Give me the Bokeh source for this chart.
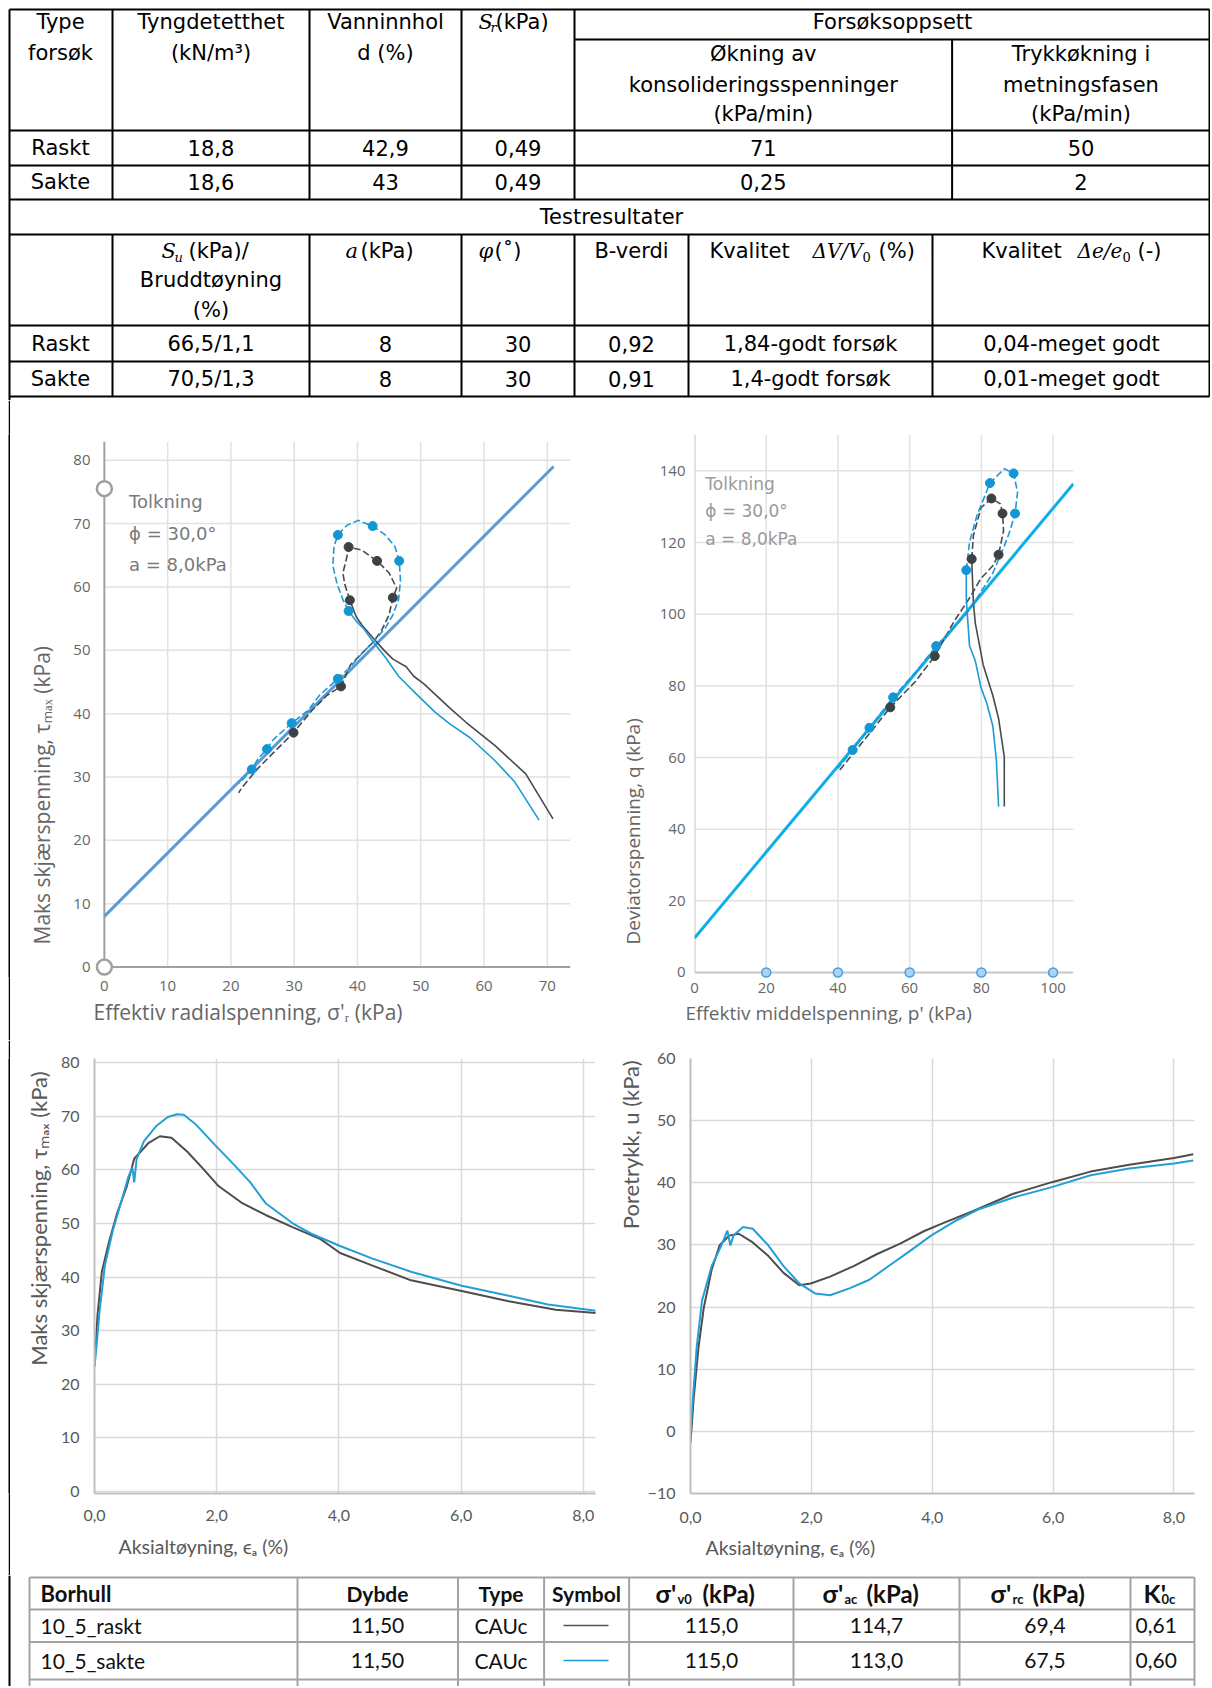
from bokeh.plotting import figure
from bokeh.layouts import column, row
from bokeh.models import Range1d, FixedTicker, CustomJSTickFormatter, Title, Spacer
from bokeh.core.properties import value
from bokeh.embed import file_html
from bokeh.resources import INLINE

# ===================== DATA =====================
# --- top tables ---
row_labels = ["Raskt", "Sakte"]
tyngde = ["18,8", "18,6"]
vanninnhold = ["42,9", "43"]
sr_kpa = ["0,49", "0,49"]
okning_kons = ["71", "0,25"]
trykkokning = ["50", "2"]
su_brudd = ["66,5/1,1", "70,5/1,3"]
a_kpa = ["8", "8"]
phi_deg = ["30", "30"]
b_verdi = ["0,92", "0,91"]
kval_dv = ["1,84-godt forsøk", "1,4-godt forsøk"]
kval_de = ["0,04-meget godt", "0,01-meget godt"]

# --- bottom table ---
borhull = ["10_5_raskt", "10_5_sakte"]
dybde = ["11,50", "11,50"]
forsokstype = ["CAUc", "CAUc"]
sig_v0 = ["115,0", "115,0"]
sig_ac = ["114,7", "113,0"]
sig_rc = ["69,4", "67,5"]
k0c = ["0,61", "0,60"]

tolkning = ["Tolkning", "ϕ = 30,0°", "a = 8,0kPa"]

# --- chart 1: effective radial stress vs max shear stress ---
c1_raskt_init_x = [70.9, 66.6, 61.7, 57.2, 54.7, 50.5, 48.9, 47.7, 45.6, 44.1, 42.5, 40.7, 39.8, 38.8]
c1_raskt_init_y = [23.4, 30.5, 35.0, 38.6, 40.8, 44.7, 45.9, 47.4, 48.6, 50.1, 51.9, 54.0, 55.3, 57.9]
c1_raskt_post_x = [38.8, 38.0, 37.7, 38.3, 38.6, 40.7, 43.1, 45.0, 46.2, 45.6, 45.0, 43.8, 42.5, 40.7,
                   38.9, 37.4, 35.2, 32.8, 29.9, 26.7, 24.3, 21.8, 21.2]
c1_raskt_post_y = [57.9, 60.4, 62.2, 64.6, 66.3, 65.8, 64.1, 62.2, 59.8, 58.3, 55.6, 53.1, 51.3, 49.5,
                   47.7, 44.3, 42.9, 40.5, 37.0, 33.8, 31.4, 28.4, 27.5]
c1_sakte_init_x = [68.7, 64.8, 61.7, 57.8, 54.7, 52.3, 49.2, 46.5, 44.4, 42.5, 41.0, 39.8, 38.6]
c1_sakte_init_y = [23.2, 29.3, 32.6, 36.2, 38.3, 40.2, 43.2, 45.9, 48.9, 51.3, 53.4, 54.6, 56.2]
c1_sakte_post_x = [38.6, 37.7, 36.8, 36.1, 36.3, 36.9, 38.3, 40.1, 42.4, 44.4, 45.9, 46.6, 46.8, 46.5,
                   45.6, 44.4, 42.5, 40.7, 38.9, 36.9, 34.0, 32.2, 29.6, 26.7, 25.7, 24.3, 23.3, 22.1, 21.3]
c1_sakte_post_y = [56.2, 58.0, 60.4, 63.4, 66.4, 68.2, 69.7, 70.5, 69.6, 68.2, 66.4, 64.1, 61.0, 58.0,
                   55.6, 53.5, 51.3, 49.5, 47.4, 45.5, 42.9, 40.5, 38.5, 35.9, 34.4, 32.9, 31.2, 29.9, 29.0]
c1_raskt_mark_x = [29.9, 37.4, 45.6, 43.1, 38.6, 38.8]
c1_raskt_mark_y = [37.0, 44.3, 58.3, 64.1, 66.3, 57.9]
c1_sakte_mark_x = [23.3, 25.7, 29.6, 36.9, 38.6, 36.9, 42.4, 46.6]
c1_sakte_mark_y = [31.2, 34.4, 38.5, 45.5, 56.2, 68.2, 69.6, 64.1]
c1_fit_x = [0, 71]
c1_fit_y = [8.0, 79.0]
c1_handle_x = [0, 0]
c1_handle_y = [75.5, 0]

# --- chart 2: mean effective stress vs deviator stress ---
c2_raskt_init_x = [86.4, 86.4, 84.8, 83.2, 80.5, 78.3, 77.8, 77.3]
c2_raskt_init_y = [46.3, 60.2, 70.9, 77.3, 85.9, 97.6, 103.0, 115.4]
c2_raskt_post_x = [77.3, 77.8, 79.9, 82.8, 85.3, 85.9, 86.2, 84.8, 83.2, 79.9, 76.7, 72.4, 67.0, 61.6,
                   54.6, 49.7, 44.3, 40.0]
c2_raskt_post_y = [115.4, 122.0, 129.7, 132.3, 130.8, 128.1, 123.3, 116.6, 113.5, 110.0, 104.5, 98.0,
                   88.3, 81.2, 74.0, 67.8, 61.2, 55.9]
c2_sakte_init_x = [84.8, 84.2, 83.2, 81.5, 79.9, 78.3, 76.7, 75.8, 75.8]
c2_sakte_init_y = [46.3, 59.1, 68.8, 75.2, 79.5, 87.0, 91.2, 104.1, 112.3]
c2_sakte_post_x = [75.8, 76.7, 78.8, 82.4, 86.4, 89.0, 90.1, 89.4, 88.0, 86.4, 83.2, 79.9, 75.6, 67.4,
                   61.6, 55.4, 48.8, 44.1, 40.0]
c2_sakte_post_y = [112.3, 120.1, 127.6, 136.6, 140.6, 139.3, 134.0, 128.1, 123.3, 119.0, 111.5, 106.2,
                   99.8, 91.1, 83.7, 76.8, 68.3, 62.1, 57.0]
c2_raskt_mark_x = [54.6, 67.0, 77.3, 82.8, 85.9, 84.8]
c2_raskt_mark_y = [74.0, 88.3, 115.4, 132.3, 128.1, 116.6]
c2_sakte_mark_x = [44.1, 48.8, 55.4, 67.4, 75.8, 82.4, 89.0, 89.4]
c2_sakte_mark_y = [62.1, 68.3, 76.8, 91.1, 112.3, 136.6, 139.3, 128.1]
c2_fit_x = [0, 105.7]
c2_fit_y = [9.6, 136.4]
c2_handle_x = [20, 40, 60, 80, 100]
c2_handle_y = [0, 0, 0, 0, 0]

# --- chart 3: axial strain vs max shear stress ---
c3_raskt_x = [0.0, 0.05, 0.12, 0.24, 0.37, 0.53, 0.65, 0.88, 1.07, 1.26, 1.52, 1.78, 2.03, 2.42, 2.8,
              3.25, 3.7, 4.02, 4.54, 5.18, 6.01, 6.78, 7.55, 8.3]
c3_raskt_y = [23.3, 33.0, 41.0, 46.7, 51.9, 57.0, 62.1, 65.0, 66.3, 66.0, 63.4, 60.2, 57.0, 53.8, 51.6,
              49.3, 47.1, 44.5, 42.2, 39.4, 37.4, 35.5, 33.9, 33.2]
c3_sakte_x = [0.0, 0.04, 0.08, 0.17, 0.30, 0.43, 0.56, 0.62, 0.65, 0.69, 0.81, 1.01, 1.2, 1.35, 1.46,
              1.65, 1.97, 2.29, 2.55, 2.8, 3.25, 3.57, 4.02, 4.54, 5.18, 6.01, 6.78, 7.42, 8.3]
c3_sakte_y = [23.3, 28.0, 33.3, 42.2, 48.7, 53.8, 58.9, 60.5, 57.7, 62.1, 65.4, 68.2, 69.9, 70.4, 70.3,
              68.6, 64.7, 60.9, 57.7, 53.8, 50.0, 48.0, 45.8, 43.5, 41.0, 38.4, 36.5, 34.9, 33.6]

# --- chart 4: axial strain vs pore pressure ---
c4_raskt_x = [0.0, 0.05, 0.13, 0.22, 0.35, 0.48, 0.64, 0.8, 1.03, 1.29, 1.54, 1.8, 1.99, 2.31, 2.7,
              3.08, 3.47, 3.86, 4.18, 4.69, 5.33, 5.98, 6.62, 7.26, 8.0, 8.32]
c4_raskt_y = [-1.9, 5.0, 13.3, 19.9, 26.0, 29.9, 31.5, 31.8, 30.4, 28.2, 25.5, 23.5, 23.8, 24.9, 26.6,
              28.5, 30.2, 32.2, 33.5, 35.5, 38.2, 40.1, 41.8, 42.9, 44.0, 44.6]
c4_sakte_x = [0.0, 0.1, 0.19, 0.35, 0.51, 0.61, 0.66, 0.71, 0.87, 1.03, 1.29, 1.54, 1.8, 2.06, 2.31,
              2.63, 2.96, 3.28, 3.6, 3.98, 4.37, 4.76, 5.33, 5.98, 6.62, 7.26, 8.0, 8.32]
c4_sakte_y = [0.0, 13.3, 21.0, 26.6, 29.9, 32.3, 29.9, 31.5, 32.9, 32.6, 29.9, 26.6, 23.8, 22.2, 21.9,
              23.0, 24.4, 26.6, 28.8, 31.5, 33.8, 35.7, 37.6, 39.3, 41.2, 42.3, 43.1, 43.6]

# ===================== STYLE =====================
TBL_FONT = "DejaVu Sans"
MATH_FONT = "DejaVu Serif"
CH_FONT = "Open Sans"
BT_FONT = "Lato"
GRAY = "#464b50"
BLUE = "#1b9ad6"
GRAY_M = "#3c4145"
BLUE_M = "#1496d4"
PAGE_W = 1210


def canvas(w, h, xr, yr):
    p = figure(width=w, height=h, x_range=Range1d(*xr), y_range=Range1d(*yr),
               output_backend="svg", toolbar_location=None, min_border=0,
               x_axis_location=None, y_axis_location=None)
    p.xgrid.visible = False
    p.ygrid.visible = False
    p.outline_line_color = None
    return p


def seg(p, x0, y0, x1, y1, color="black", w=2):
    p.segment(x0=x0, y0=y0, x1=x1, y1=y1, line_color=color, line_width=w)


def txt(p, xs, ys, texts, align="center", size="21px", font=TBL_FONT, style="normal", color="#000000"):
    p.text(x=xs, y=ys, text=texts, text_align=align, text_baseline="middle",
           text_font=value(font), text_font_size=size, text_font_style=style, text_color=color)


# ===================== TOP TABLES =====================
T = canvas(PAGE_W, 400, (0, PAGE_W), (400, 0))
L, R = 9, 1209
hy = [9, 130, 165, 199, 234, 325, 361, 396]
seg(T, [L] * len(hy), hy, [R] * len(hy), hy)
seg(T, [574], [39], [R], [39])
seg(T, [L, R], [9, 9], [L, R], [400, 396])
v1 = [112, 309, 461, 574]
seg(T, v1, [9] * 4, v1, [199] * 4)
seg(T, [951.6], [39], [951.6], [199])
v2 = [112, 309, 461, 574, 688, 932]
seg(T, v2, [234] * 6, v2, [396] * 6)

cc1 = [60, 210.5, 385, 517.5, 762.8, 1080.5]
txt(T, [60, 210.5, 385], [21.5] * 3, ["Type", "Tyngdetetthet", "Vanninnhol"])
txt(T, [60, 210.5, 385], [52.7] * 3, ["forsøk", "(kN/m³)", "d (%)"])
txt(T, [478], [21.5], ["S"], align="left", font=MATH_FONT, style="italic", size="21px")
txt(T, [490], [27], ["r"], align="left", font=MATH_FONT, style="italic", size="13px")
txt(T, [495], [21.5], ["(kPa)"], align="left")
txt(T, [892], [21.5], ["Forsøksoppsett"])
txt(T, [762.8] * 3, [53.8, 84, 113], ["Økning av", "konsolideringsspenninger", "(kPa/min)"])
txt(T, [1080.5] * 3, [53.8, 84, 113], ["Trykkøkning i", "metningsfasen", "(kPa/min)"])
for i, yy in enumerate([147.3, 181.8]):
    txt(T, cc1, [yy] * 6, [row_labels[i], tyngde[i], vanninnhold[i], sr_kpa[i], okning_kons[i], trykkokning[i]])

txt(T, [611], [216], ["Testresultater"])
txt(T, [161], [250.8], ["S"], align="left", font=MATH_FONT, style="italic", size="21px")
txt(T, [174], [256.5], ["u"], align="left", font=MATH_FONT, style="italic", size="13px")
txt(T, [188], [250.8], ["(kPa)/"], align="left")
txt(T, [210.5, 210.5], [279, 309], ["Bruddtøyning", "(%)"])
txt(T, [345], [250.8], ["a"], align="left", font=MATH_FONT, style="italic", size="21px")
txt(T, [360], [250.8], ["(kPa)"], align="left")
txt(T, [478], [250.8], ["φ"], align="left", font=MATH_FONT, style="italic", size="21px")
txt(T, [494], [250.8], ["(˚)"], align="left")
txt(T, [631], [250.8], ["B-verdi"])
txt(T, [709, 981], [250.8] * 2, ["Kvalitet", "Kvalitet"], align="left")
txt(T, [812, 1077], [250.8] * 2, ["ΔV/V", "Δe/e"], align="left", font=MATH_FONT, style="italic", size="20px")
txt(T, [862, 1122], [256] * 2, ["0", "0"], align="left", font=MATH_FONT, size="13px")
txt(T, [878, 1137], [250.8] * 2, ["(%)", "(-)"], align="left")
cc2 = [60, 210.5, 385, 517.5, 631, 810, 1071]
for i, yy in enumerate([343, 378.5]):
    txt(T, cc2, [yy] * 7, [row_labels[i], su_brudd[i], a_kpa[i], phi_deg[i], b_verdi[i], kval_dv[i], kval_de[i]])


# ===================== CHARTS =====================
def chart(w, h, xr, yr, bl, br, bt, bb):
    p = figure(width=w, height=h, x_range=Range1d(*xr), y_range=Range1d(*yr),
               output_backend="svg", toolbar_location=None,
               min_border_left=bl, min_border_right=br, min_border_top=bt, min_border_bottom=bb)
    p.outline_line_color = None
    p.background_fill_color = "white"
    p.border_fill_color = "white"
    return p


def style(p, xticks, yticks, font, tsize, tcolor, axcol, gridcol, xls, yls):
    p.xaxis.ticker = FixedTicker(ticks=xticks)
    p.yaxis.ticker = FixedTicker(ticks=yticks)
    for ax in [p.xaxis[0], p.yaxis[0]]:
        ax.major_tick_line_color = None
        ax.minor_tick_line_color = None
        ax.major_tick_out = 0
        ax.major_tick_in = 0
        ax.minor_tick_out = 0
        ax.major_label_text_font = font
        ax.major_label_text_font_size = tsize
        ax.major_label_text_color = tcolor
        ax.axis_line_color = axcol
        ax.axis_line_width = 2
    p.xaxis.major_label_standoff = xls
    p.yaxis.major_label_standoff = yls
    if gridcol is None:
        p.xgrid.visible = False
        p.ygrid.visible = False
    else:
        p.xgrid.grid_line_color = gridcol
        p.ygrid.grid_line_color = gridcol
        p.xgrid.grid_line_width = 1.5
        p.ygrid.grid_line_width = 1.5


def titles(p, xlabel, ylabel, font, xsize, ysize, color, xalign, xoff, xstand, yalign, yoff, ystand):
    tx = Title(text=xlabel, align=xalign, offset=xoff, text_font=font, text_font_size=xsize,
               text_color=color, text_font_style="normal")
    ty = Title(text=ylabel, align=yalign, offset=yoff, text_font=font, text_font_size=ysize,
               text_color=color, text_font_style="normal")
    try:
        tx.standoff = xstand
        ty.standoff = ystand
    except Exception:
        pass
    p.add_layout(tx, "below")
    p.add_layout(ty, "left")


def manual_axes(p, xt, yt, xmax, ymax, gridcol, axcol):
    # grid lines start at the axes (0), axes drawn as lines through the origin
    p.segment(x0=xt[1:], y0=[0] * (len(xt) - 1), x1=xt[1:], y1=[ymax] * (len(xt) - 1),
              line_color=gridcol, line_width=1.5)
    p.segment(x0=[0] * (len(yt) - 1), y0=yt[1:], x1=[xmax] * (len(yt) - 1), y1=yt[1:],
              line_color=gridcol, line_width=1.5)
    p.segment(x0=[0, 0], y0=[0, 0], x1=[0, xmax], y1=[ymax, 0], line_color=axcol, line_width=2)


# ---- chart 1 ----
C1_X = (-1.4, 73.67)
C1_Y = (-1.64, 84.05)
C1 = chart(595, 640, C1_X, C1_Y, 82, 35, 34, 63)
c1_xt = [0, 10, 20, 30, 40, 50, 60, 70]
c1_yt = [0, 10, 20, 30, 40, 50, 60, 70, 80]
style(C1, c1_xt, c1_yt, CH_FONT, "15px", "#666666", None, None, 3, 5)
manual_axes(C1, c1_xt, c1_yt, C1_X[1], 82.9, "#e2e2e2", "#a0a0a0")
titles(C1, "Effektiv radialspenning, σ'ᵣ (kPa)", "Maks skjærspenning, τₘₐₓ (kPa)",
       CH_FONT, "21px", "21px", "#666666", "left", -2, 5, "left", 33, 30)
C1.line(c1_fit_x, c1_fit_y, line_color="#5b9bd5", line_width=3)
C1.line(c1_raskt_init_x, c1_raskt_init_y, line_color=GRAY, line_width=1.6)
C1.line(c1_raskt_post_x, c1_raskt_post_y, line_color=GRAY, line_width=1.6, line_dash="7 3")
C1.line(c1_sakte_init_x, c1_sakte_init_y, line_color=BLUE, line_width=1.6)
C1.line(c1_sakte_post_x, c1_sakte_post_y, line_color=BLUE, line_width=1.6, line_dash="7 3")
C1.scatter(c1_raskt_mark_x, c1_raskt_mark_y, size=9, fill_color=GRAY_M, line_color=GRAY_M)
C1.scatter(c1_sakte_mark_x, c1_sakte_mark_y, size=9, fill_color=BLUE_M, line_color=BLUE_M)
C1.text(x=[3.9] * 3, y=[73.4, 68.5, 63.6], text=tolkning, text_align="left", text_baseline="middle",
        text_font=value("DejaVu Sans"), text_font_size="18px", text_color="#7a7a7a")
h1 = C1.scatter(c1_handle_x, c1_handle_y, size=15, fill_color="white", line_color="#a0a0a0", line_width=2.5)
h1.level = "overlay"

# ---- chart 2 ----
C2_X = (0, 105.7)
C2_Y = (-1.40, 150.15)
C2 = chart(605, 640, C2_X, C2_Y, 89, 137, 34, 63)
c2_xt = [0, 20, 40, 60, 80, 100]
c2_yt = [0, 20, 40, 60, 80, 100, 120, 140]
style(C2, c2_xt, c2_yt, CH_FONT, "15px", "#666666", None, None, 5, 9)
manual_axes(C2, c2_xt, c2_yt, C2_X[1], 150.15, "#e2e2e2", "#c8c8c8")
titles(C2, "Effektiv middelspenning, p' (kPa)", "Deviatorspenning, q (kPa)",
       CH_FONT, "19px", "19px", "#666666", "left", -9, 5, "left", 33, 22)
C2.line(c2_fit_x, c2_fit_y, line_color="#10aee8", line_width=3)
C2.line(c2_raskt_init_x, c2_raskt_init_y, line_color=GRAY, line_width=1.6)
C2.line(c2_raskt_post_x, c2_raskt_post_y, line_color=GRAY, line_width=1.6, line_dash="7 3")
C2.line(c2_sakte_init_x, c2_sakte_init_y, line_color=BLUE, line_width=1.6)
C2.line(c2_sakte_post_x, c2_sakte_post_y, line_color=BLUE, line_width=1.6, line_dash="7 3")
C2.scatter(c2_raskt_mark_x, c2_raskt_mark_y, size=9, fill_color=GRAY_M, line_color=GRAY_M)
C2.scatter(c2_sakte_mark_x, c2_sakte_mark_y, size=9, fill_color=BLUE_M, line_color=BLUE_M)
C2.text(x=[3.0] * 3, y=[136.4, 128.9, 121.0], text=tolkning, text_align="left", text_baseline="middle",
        text_font=value("DejaVu Sans"), text_font_size="17px", text_color="#9a9a9a")
h2 = C2.scatter(c2_handle_x, c2_handle_y, size=9, fill_color="#a9d4f5", line_color="#4a9de0", line_width=1.5)
h2.level = "overlay"

# ---- chart 3 ----
comma = CustomJSTickFormatter(code="return tick.toFixed(1).replace('.', ',')")
C3 = chart(597, 535, (0, 8.20), (-0.41, 80.82), 84, 12, 18, 82)
style(C3, [0, 2, 4, 6, 8], [0, 10, 20, 30, 40, 50, 60, 70, 80],
      BT_FONT, "16px", "#595959", "#bfbfbf", "#d9d9d9", 16, 15)
C3.xaxis.formatter = comma
titles(C3, "Aksialtøyning, ϵₐ (%)", "Maks skjærspenning, τₘₐₓ (kPa)",
       BT_FONT, "19.5px", "22px", "#595959", "left", 24, 19, "right", 13, 12)
C3.line(c3_raskt_x, c3_raskt_y, line_color="#4d4d4d", line_width=2)
C3.line(c3_sakte_x, c3_sakte_y, line_color="#22a0d6", line_width=2)

# ---- chart 4 ----
C4 = chart(603, 535, (0, 8.34), (-10, 60), 83, 16, 18, 82)
style(C4, [0, 2, 4, 6, 8], [-10, 0, 10, 20, 30, 40, 50, 60],
      BT_FONT, "16px", "#595959", "#bfbfbf", "#d9d9d9", 18, 15)
C4.xaxis.formatter = comma
titles(C4, "Aksialtøyning, ϵₐ (%)", "Poretrykk, u (kPa)",
       BT_FONT, "19.5px", "22px", "#595959", "left", 15, 16, "right", 2, 1)
C4.line(c4_raskt_x, c4_raskt_y, line_color="#4d4d4d", line_width=2)
C4.line(c4_sakte_x, c4_sakte_y, line_color="#22a0d6", line_width=2)


def vborder(h):
    b = canvas(2, h, (0, 1), (0, 1))
    b.background_fill_color = "black"
    b.border_fill_color = "black"
    return b


# ===================== BOTTOM TABLE =====================
B = canvas(PAGE_W, 111, (0, PAGE_W), (1686, 1575))
seg(B, [L], [1575], [L], [1686])
bh = [1577, 1609, 1641.5, 1679]
seg(B, [29] * 4, bh, [1194] * 4, bh, color="#a3a3a3", w=2)
bv = [29, 297, 457.5, 543.6, 628.6, 793, 959, 1130, 1194]
seg(B, bv, [1577] * len(bv), bv, [1686] * len(bv), color="#a3a3a3", w=2)
HB = dict(font=BT_FONT, style="bold", color="#111111")
txt(B, [40], [1593], ["Borhull"], align="left", size="22px", **HB)
txt(B, [377, 500.5, 586], [1593] * 3, ["Dybde", "Type", "Symbol"], size="21px", **HB)
txt(B, [655, 822, 990, 1143], [1592] * 4, ["σ'", "σ'", "σ'", "K'"], align="left", size="25px", **HB)
txt(B, [677, 844, 1012, 1161], [1598] * 4, ["v0", "ac", "rc", "0c"], align="left", size="13px", **HB)
txt(B, [702, 866, 1032], [1593] * 3, ["(kPa)", "(kPa)", "(kPa)"], align="left", size="24px", **HB)
for i, yy in enumerate([1625, 1660]):
    txt(B, [40], [yy], [borhull[i]], align="left", size="21px", font=BT_FONT, color="#111111")
    txt(B, [377, 500.5, 711, 876, 1044.5], [yy] * 5, [dybde[i], forsokstype[i], sig_v0[i], sig_ac[i], sig_rc[i]],
        size="21px", font=BT_FONT, color="#111111")
    txt(B, [1135], [yy], [k0c[i]], align="left", size="21px", font=BT_FONT, color="#111111")
B.line([563, 608], [1625, 1625], line_color="#555555", line_width=1.5)
B.line([563, 608], [1660, 1660], line_color="#1b9ad6", line_width=1.5)

layout = column(T,
                row(Spacer(width=8, height=640), vborder(640), C1, C2),
                row(Spacer(width=8, height=535), vborder(535), C3, C4),
                B)
open("out.html", "w").write(file_html(layout, INLINE))
